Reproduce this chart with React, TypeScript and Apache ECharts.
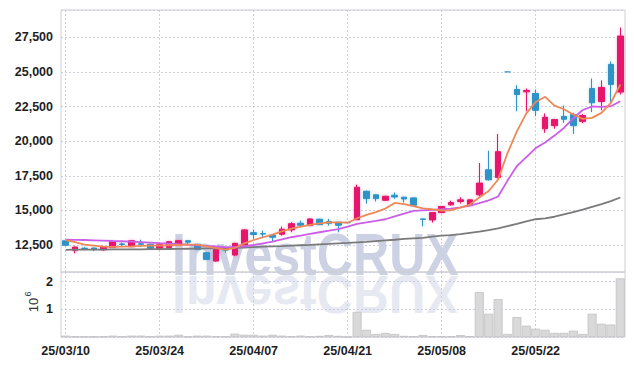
import React, { useEffect, useRef } from "react";
import * as echarts from "echarts";

const dates = [
  "25/03/10", "25/03/11", "25/03/12", "25/03/13", "25/03/14", "25/03/17", "25/03/18", "25/03/19", "25/03/20", "25/03/21",
  "25/03/24", "25/03/25", "25/03/26", "25/03/27", "25/03/28", "25/03/31", "25/04/01", "25/04/02", "25/04/03", "25/04/04",
  "25/04/07", "25/04/08", "25/04/09", "25/04/10", "25/04/11", "25/04/14", "25/04/15", "25/04/16", "25/04/17", "25/04/18",
  "25/04/21", "25/04/22", "25/04/23", "25/04/24", "25/04/25", "25/04/28", "25/04/29", "25/04/30", "25/05/02", "25/05/07",
  "25/05/08", "25/05/09", "25/05/12", "25/05/13", "25/05/14", "25/05/15", "25/05/16", "25/05/19", "25/05/20", "25/05/21",
  "25/05/22", "25/05/23", "25/05/26", "25/05/27", "25/05/28", "25/05/29", "25/05/30", "25/06/02", "25/06/04", "25/06/05",
];

const opens = [
  12800, 12120, 12270, 12280, 12160, 12330, 12580, 12380, 12590, 12550,
  12230, 12300, 12500, 12810, 12550, 11940, 11340, 12180, 11775, 12500,
  13390, 13330, 13200, 13275, 13590, 14070, 13900, 14360, 14190, 14140,
  14130, 14325, 16380, 16120, 15730, 16090, 15950, 15900, 14380, 14310,
  14840, 15400, 15640, 15350, 16120, 17930, 17380, 25000, 23730, 23560,
  23440, 20900, 21120, 21780, 21920, 21430, 23800, 22860, 25540, 23540,
];
const closes = [
  12480, 12350, 12240, 12190, 12350, 12740, 12540, 12810, 12550, 12260,
  12520, 12740, 12810, 12700, 12190, 11460, 12190, 12130, 12620, 13590,
  13260, 13290, 13060, 13640, 14040, 13930, 14380, 13970, 14070, 13930,
  14110, 16670, 15850, 15850, 16020, 15970, 15825, 15370, 14350, 14840,
  15280, 15560, 15760, 15760, 16970, 17210, 19240, 25000, 23370, 23660,
  22230, 21720, 21560, 21580, 21120, 21850, 22770, 23880, 24090, 27590,
];
const lows = [
  12450, 11900, 12150, 12060, 12080, 12300, 12420, 12350, 12350, 12230,
  12200, 12280, 12480, 12540, 12150, 11420, 11300, 11950, 11700, 12450,
  12950, 13050, 12740, 13180, 13420, 13790, 13880, 13950, 13900, 13420,
  14100, 14300, 15490, 15640, 15700, 15830, 15560, 15350, 13850, 14120,
  14800, 15350, 15500, 15320, 16000, 17150, 17300, 25000, 22160, 22160,
  21800, 20600, 20900, 21320, 20520, 21300, 22100, 22230, 22810, 23370,
];
const highs = [
  12820, 12380, 12330, 12300, 12380, 12780, 12680, 12850, 12880, 12580,
  12540, 12780, 12860, 12840, 12580, 11980, 12220, 12250, 12650, 13640,
  13620, 13540, 13240, 13830, 14150, 14260, 14420, 14400, 14380, 14160,
  14140, 16860, 16420, 16150, 16060, 16290, 15980, 15930, 14400, 14870,
  15320, 15700, 15950, 15790, 18420, 19310, 20520, 25000, 24040, 23800,
  23730, 22000, 21600, 22570, 22040, 21950, 24520, 24390, 25760, 28200,
];

const ma5 = [
  12860, 12700, 12520, 12450, 12380, 12370, 12380, 12400, 12430, 12450,
  12460, 12480, 12500, 12520, 12520, 12400, 12280, 12160, 12300, 12620,
  12860, 13060, 13250, 13480, 13680, 13820, 13950, 14060, 14130, 14140,
  14110, 14430, 14680, 14870, 15130, 15540, 15450, 15300, 15150, 15080,
  14990, 15010, 15200, 15420, 15930, 16400, 17230, 19140, 20700, 22000,
  22830, 23200, 22570, 22300, 21920, 21610, 21680, 22040, 22770, 24090,
];
const ma20 = [
  12880, 12870, 12860, 12840, 12820, 12790, 12770, 12740, 12710, 12670,
  12630, 12600, 12560, 12520, 12480, 12430, 12390, 12350, 12340, 12410,
  12500, 12620, 12740, 12900, 13060, 13180, 13300, 13420, 13530, 13650,
  13820, 14030, 14130, 14240, 14360, 14560, 14760, 14960, 15000, 15040,
  15080, 15130, 15220, 15350, 15520, 15720, 16000, 17150, 18200, 18850,
  19500, 19900, 20400, 20950, 21650, 22250, 22500, 22480, 22520, 22880,
];
const ma120 = [
  12150, 12160, 12160, 12170, 12170, 12180, 12180, 12190, 12190, 12200,
  12200, 12210, 12220, 12230, 12240, 12250, 12260, 12280, 12300, 12320,
  12350, 12380, 12400, 12420, 12450, 12480, 12510, 12550, 12580, 12620,
  12650, 12690, 12730, 12780, 12830, 12880, 12940, 12980, 13020, 13110,
  13170, 13210, 13280, 13370, 13460, 13570, 13700, 13860, 14020, 14200,
  14360, 14430, 14540, 14710, 14880, 15050, 15250, 15450, 15670, 15930,
];

const volumes = [
  50000, 20000, 10000, 10000, 20000, 50000, 20000, 50000, 50000, 20000,
  50000, 50000, 80000, 20000, 50000, 50000, 30000, 20000, 120000, 80000,
  80000, 50000, 80000, 50000, 30000, 50000, 20000, 40000, 70000, 40000,
  5000, 910000, 260000, 110000, 150000, 110000, 40000, 30000, 70000, 30000,
  30000, 30000, 70000, 30000, 1620000, 840000, 1370000, 110000, 720000, 410000,
  300000, 260000, 150000, 150000, 230000, 110000, 840000, 480000, 450000, 2120000,
];

const UP = "#e5196c";
const DOWN = "#2e93c6";
const UP_GLOW = "rgba(229,25,108,0.35)";
const DOWN_GLOW = "rgba(46,147,198,0.35)";
const GRID_LINE = "#c9cfe0";
const FONT = "'Liberation Sans', Arial, sans-serif";

export default function App() {
  const ref = useRef<HTMLDivElement>(null);

  useEffect(() => {
    if (!ref.current) return;
    const chart = echarts.init(ref.current, undefined, { renderer: "svg" });

    const candleData = dates.map((_, i) => {
      const v = [opens[i], closes[i], lows[i], highs[i]];
      const flat = opens[i] === closes[i];
      const up = closes[i] > opens[i];
      if (flat) {
        return {
          value: v,
          itemStyle: { color: DOWN, color0: DOWN, borderColor: DOWN, borderColor0: DOWN, borderWidth: 1.2 },
        };
      }
      return { value: v, itemStyle: { shadowBlur: 3, shadowColor: up ? UP_GLOW : DOWN_GLOW } };
    });

    const splitLine = {
      show: true,
      interval: 9,
      alignWithLabel: true,
      lineStyle: { color: GRID_LINE, type: [2, 2] as any, width: 1 },
    };

    const labelStyle = {
      color: "#1e1e1e",
      fontSize: 12.5,
      fontWeight: "bold" as const,
      fontFamily: FONT,
    };

    const option: any = {
      animation: false,
      backgroundColor: "#ffffff",
      grid: [
        { left: 61, right: 9, top: 10, height: 262, show: true, borderColor: "#cfcfcf", borderWidth: 1, backgroundColor: "transparent" },
        { left: 61, right: 9, top: 272, height: 65, show: true, borderColor: "#cfcfcf", borderWidth: 1, backgroundColor: "transparent" },
      ],
      xAxis: [
        {
          type: "category",
          gridIndex: 0,
          data: dates,
          boundaryGap: true,
          axisLine: { show: false },
          axisTick: { show: false, interval: 9, alignWithLabel: true },
          axisLabel: { show: false, interval: 9 },
          splitLine,
        },
        {
          type: "category",
          gridIndex: 1,
          data: dates,
          boundaryGap: true,
          axisLine: { show: false },
          axisTick: { show: false, interval: 9, alignWithLabel: true },
          axisLabel: { show: true, interval: 9, margin: 7, ...labelStyle },
          splitLine,
        },
      ],
      yAxis: [
        {
          type: "value",
          gridIndex: 0,
          min: 10550,
          max: 29470,
          minInterval: 2500,
          maxInterval: 2500,
          axisLine: { show: false },
          axisTick: { show: false },
          axisLabel: {
            ...labelStyle,
            margin: 8,
            padding: [4, 0, 0, 0],
            showMinLabel: false,
            showMaxLabel: false,
            formatter: (v: number) => v.toLocaleString("en-US"),
          },
          splitLine: { show: true, lineStyle: { color: GRID_LINE, type: [2, 2] as any, width: 1 } },
        },
        {
          type: "value",
          gridIndex: 1,
          min: 0,
          max: 2350000,
          minInterval: 1000000,
          maxInterval: 1000000,
          axisLine: { show: false },
          axisTick: { show: false },
          axisLabel: {
            ...labelStyle,
            margin: 8,
            padding: [4, 0, 0, 0],
            showMinLabel: false,
            showMaxLabel: false,
            formatter: (v: number) => String(Math.round(v / 1000000)),
          },
          splitLine: { show: true, lineStyle: { color: GRID_LINE, type: [2, 2] as any, width: 1 } },
        },
      ],
      graphic: [
        {
          type: "text",
          x: 172,
          y: 276,
          scaleX: 0.835,
          z: -10,
          silent: true,
          style: {
            text: "InvestCRUX",
            x: 0,
            y: -21.5,
            verticalAlign: "middle",
            align: "left",
            font: `bold 60px ${FONT}`,
            fill: "#ccd1e3",
          },
        },
        {
          type: "text",
          x: 172,
          y: 276,
          scaleX: 0.835,
          scaleY: -0.88,
          z: -10,
          silent: true,
          style: {
            text: "InvestCRUX",
            x: 0,
            y: -21.5,
            verticalAlign: "middle",
            align: "left",
            font: `bold 60px ${FONT}`,
            fill: "#e6e9f1",
          },
        },
        {
          type: "group",
          x: 33,
          y: 305,
          rotation: Math.PI / 2,
          children: [
            { type: "text", style: { text: "10", x: 0, y: 0, align: "center", verticalAlign: "middle", font: `13px ${FONT}`, fill: "#333" } },
            { type: "text", style: { text: "6", x: 11, y: -5, align: "center", verticalAlign: "middle", font: `9px ${FONT}`, fill: "#333" } },
          ],
        },
      ],
      series: [
        {
          type: "candlestick",
          xAxisIndex: 0,
          yAxisIndex: 0,
          data: candleData,
          barWidth: 6,
          itemStyle: { color: UP, color0: DOWN, borderColor: UP, borderColor0: DOWN, borderWidth: 1 },
          z: 3,
        },
        {
          type: "line",
          xAxisIndex: 0,
          yAxisIndex: 0,
          data: ma120,
          symbol: "none",
          lineStyle: { color: "#7a7a7a", width: 1.8 },
          z: 4,
        },
        {
          type: "line",
          xAxisIndex: 0,
          yAxisIndex: 0,
          data: ma20,
          symbol: "none",
          lineStyle: { color: "#cc5de8", width: 1.8 },
          z: 4,
        },
        {
          type: "line",
          xAxisIndex: 0,
          yAxisIndex: 0,
          data: ma5,
          symbol: "none",
          lineStyle: { color: "#ef8756", width: 1.8 },
          z: 5,
        },
        {
          type: "bar",
          xAxisIndex: 1,
          yAxisIndex: 1,
          data: volumes,
          barCategoryGap: "4%",
          itemStyle: { color: "#d9d9d9", borderColor: "#c2c2c2", borderWidth: 0.8 },
          z: 3,
        },
      ],
    };

    chart.setOption(option);
    return () => chart.dispose();
  }, []);

  return (
    <div
      ref={ref}
      style={{ position: "fixed", left: 0, top: 0, width: 634, height: 366, background: "#fff" }}
    />
  );
}
